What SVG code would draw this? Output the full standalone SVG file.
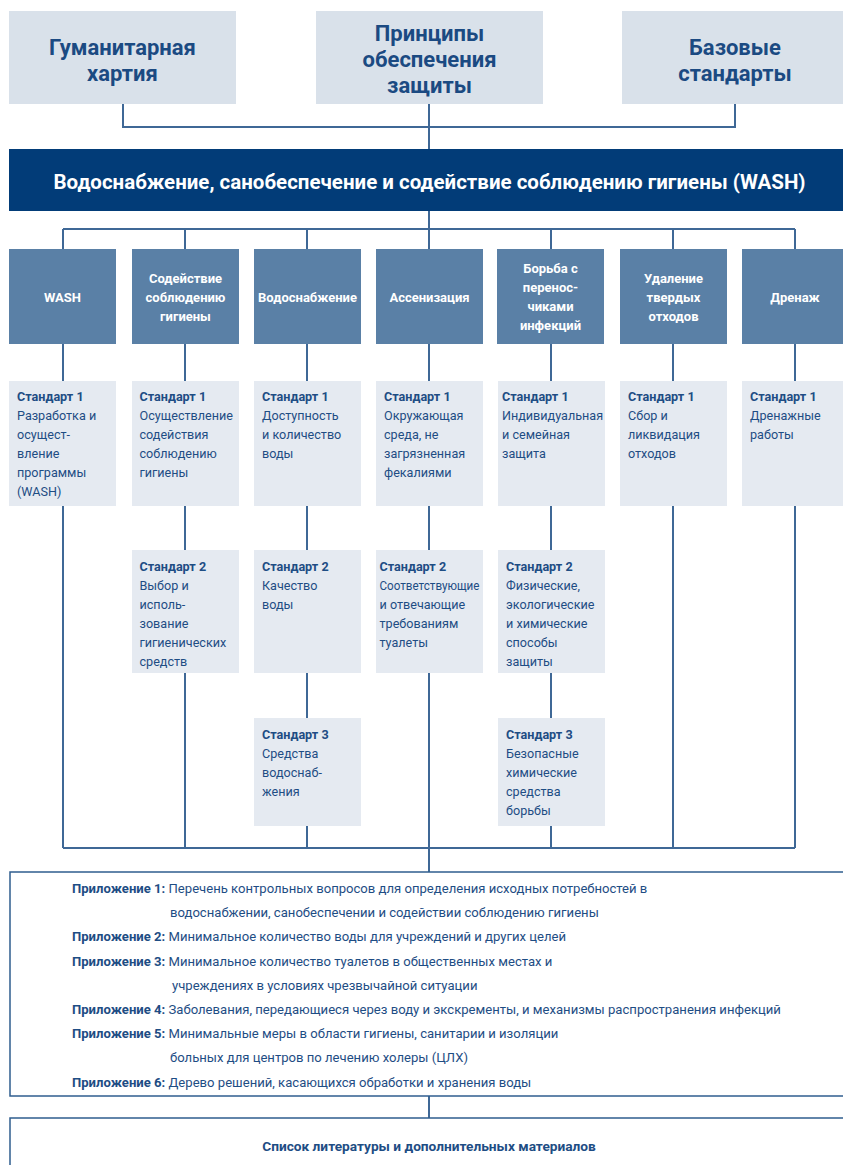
<svg xmlns="http://www.w3.org/2000/svg" width="843" height="1165" viewBox="0 0 843 1165">
<style>
.top{fill:#d9e1ea}
.toptxt{font-family:Roboto,"Noto Sans",sans-serif;font-weight:bold;font-size:22px;fill:#1b4a82;text-anchor:middle}
.band{fill:#023c78}
.bandtxt{font-family:Roboto,"Noto Sans",sans-serif;font-weight:bold;font-size:20.5px;fill:#ffffff;text-anchor:middle}
.cat{fill:#5a80a6}
.cattxt{font-family:Roboto,"Noto Sans",sans-serif;font-weight:bold;font-size:13px;fill:#ffffff;text-anchor:middle}
.std{fill:#e5eaf1}
.stdtxt{font-family:Roboto,"Noto Sans",sans-serif;font-size:12.6px;fill:#1e4d84}
.b{font-weight:bold}
.ln{stroke:#3f6896;stroke-width:2;fill:none}
.frame{fill:#ffffff;stroke:#2f5d8f;stroke-width:1.5}
.apx{font-family:Roboto,"Noto Sans",sans-serif;font-size:13.1px;fill:#1e4d84}
</style>

<g id="connectors">
<path class="ln" d="M123 104V127H735V104"/>
<path class="ln" d="M429 104V149"/>
<path class="ln" d="M429 211V229"/>
<path class="ln" d="M63 229H795"/>
<path class="ln" d="M63 229V848M185 229V848M307 229V848M429 229V872M551 229V848M673 229V848M795 229V848"/>
<path class="ln" d="M63 848H795"/>
<path class="ln" d="M429 1096V1118"/>
</g>

<g id="n-charter"><rect class="top" x="9" y="11" width="227" height="93"/>
<text class="toptxt" x="122.5" y="55">Гуманитарная</text><text class="toptxt" x="122.5" y="81">хартия</text></g>
<g id="n-principles"><rect class="top" x="316" y="11" width="227" height="93"/>
<text class="toptxt" x="429.5" y="41">Принципы</text><text class="toptxt" x="429.5" y="67">обеспечения</text><text class="toptxt" x="429.5" y="93">защиты</text></g>
<g id="n-core"><rect class="top" x="622" y="11" width="227" height="93"/>
<text class="toptxt" x="735" y="55">Базовые</text><text class="toptxt" x="735" y="81">стандарты</text></g>

<g id="n-wash-main"><rect class="band" x="9" y="149" width="840" height="62"/>
<text class="bandtxt" x="429.5" y="189">Водоснабжение, санобеспечение и содействие соблюдению гигиены (WASH)</text></g>

<g id="c-wash"><rect class="cat" x="9" y="249" width="107" height="95"/><text class="cattxt" x="62.5" y="302">WASH</text></g>
<g id="c-hygiene"><rect class="cat" x="132" y="249" width="107" height="95"/><text class="cattxt" x="185.5" y="283">Содействие</text><text class="cattxt" x="185.5" y="302">соблюдению</text><text class="cattxt" x="185.5" y="321">гигиены</text></g>
<g id="c-water"><rect class="cat" x="254" y="249" width="107" height="95"/><text class="cattxt" x="307.5" y="302">Водоснабжение</text></g>
<g id="c-excreta"><rect class="cat" x="376" y="249" width="107" height="95"/><text class="cattxt" x="429.5" y="302">Ассенизация</text></g>
<g id="c-vector"><rect class="cat" x="497" y="249" width="107" height="95"/><text class="cattxt" x="550.5" y="273">Борьба с</text><text class="cattxt" x="550.5" y="292">перенос-</text><text class="cattxt" x="550.5" y="311">чиками</text><text class="cattxt" x="550.5" y="330">инфекций</text></g>
<g id="c-solid"><rect class="cat" x="620" y="249" width="107" height="95"/><text class="cattxt" x="673.5" y="283">Удаление</text><text class="cattxt" x="673.5" y="302">твердых</text><text class="cattxt" x="673.5" y="321">отходов</text></g>
<g id="c-drain"><rect class="cat" x="742" y="249" width="107" height="95"/><text class="cattxt" x="795" y="302">Дренаж</text></g>

<g id="s-wash-1"><rect class="std" x="9" y="381" width="107" height="125"/>
<text class="stdtxt" x="17" y="401"><tspan class="b">Стандарт 1</tspan><tspan x="17" dy="19">Разработка и</tspan><tspan x="17" dy="19">осущест-</tspan><tspan x="17" dy="19">вление</tspan><tspan x="17" dy="19">программы</tspan><tspan x="17" dy="19">(WASH)</tspan></text></g>
<g id="s-hyg-1"><rect class="std" x="132" y="381" width="107" height="125"/>
<text class="stdtxt" x="139.5" y="401"><tspan class="b">Стандарт 1</tspan><tspan x="139.5" dy="19">Осуществление</tspan><tspan x="139.5" dy="19">содействия</tspan><tspan x="139.5" dy="19">соблюдению</tspan><tspan x="139.5" dy="19">гигиены</tspan></text></g>
<g id="s-hyg-2"><rect class="std" x="132" y="550" width="107" height="123"/>
<text class="stdtxt" x="139.5" y="571"><tspan class="b">Стандарт 2</tspan><tspan x="139.5" dy="19">Выбор и</tspan><tspan x="139.5" dy="19">исполь-</tspan><tspan x="139.5" dy="19">зование</tspan><tspan x="139.5" dy="19">гигиенических</tspan><tspan x="139.5" dy="19">средств</tspan></text></g>
<g id="s-water-1"><rect class="std" x="254" y="381" width="107" height="125"/>
<text class="stdtxt" x="262" y="401"><tspan class="b">Стандарт 1</tspan><tspan x="262" dy="19">Доступность</tspan><tspan x="262" dy="19">и количество</tspan><tspan x="262" dy="19">воды</tspan></text></g>
<g id="s-water-2"><rect class="std" x="254" y="550" width="107" height="123"/>
<text class="stdtxt" x="262" y="571"><tspan class="b">Стандарт 2</tspan><tspan x="262" dy="19">Качество</tspan><tspan x="262" dy="19">воды</tspan></text></g>
<g id="s-water-3"><rect class="std" x="254" y="718" width="107" height="108"/>
<text class="stdtxt" x="262" y="739"><tspan class="b">Стандарт 3</tspan><tspan x="262" dy="19">Средства</tspan><tspan x="262" dy="19">водоснаб-</tspan><tspan x="262" dy="19">жения</tspan></text></g>
<g id="s-excr-1"><rect class="std" x="376" y="381" width="107" height="125"/>
<text class="stdtxt" x="384" y="401"><tspan class="b">Стандарт 1</tspan><tspan x="384" dy="19">Окружающая</tspan><tspan x="384" dy="19">среда, не</tspan><tspan x="384" dy="19">загрязненная</tspan><tspan x="384" dy="19">фекалиями</tspan></text></g>
<g id="s-excr-2"><rect class="std" x="376" y="550" width="107" height="123"/>
<text class="stdtxt" x="379.5" y="571"><tspan class="b">Стандарт 2</tspan><tspan x="379.5" dy="19" textLength="100" lengthAdjust="spacingAndGlyphs">Соответствующие</tspan><tspan x="379.5" dy="19">и отвечающие</tspan><tspan x="379.5" dy="19">требованиям</tspan><tspan x="379.5" dy="19">туалеты</tspan></text></g>
<g id="s-vec-1"><rect class="std" x="498" y="381" width="107" height="125"/>
<text class="stdtxt" x="502" y="401"><tspan class="b">Стандарт 1</tspan><tspan x="502" dy="19">Индивидуальная</tspan><tspan x="502" dy="19">и семейная</tspan><tspan x="502" dy="19">защита</tspan></text></g>
<g id="s-vec-2"><rect class="std" x="498" y="550" width="107" height="123"/>
<text class="stdtxt" x="506" y="571"><tspan class="b">Стандарт 2</tspan><tspan x="506" dy="19">Физические,</tspan><tspan x="506" dy="19">экологические</tspan><tspan x="506" dy="19">и химические</tspan><tspan x="506" dy="19">способы</tspan><tspan x="506" dy="19">защиты</tspan></text></g>
<g id="s-vec-3"><rect class="std" x="498" y="718" width="107" height="108"/>
<text class="stdtxt" x="506" y="739"><tspan class="b">Стандарт 3</tspan><tspan x="506" dy="19">Безопасные</tspan><tspan x="506" dy="19">химические</tspan><tspan x="506" dy="19">средства</tspan><tspan x="506" dy="19">борьбы</tspan></text></g>
<g id="s-solid-1"><rect class="std" x="620" y="381" width="107" height="125"/>
<text class="stdtxt" x="628" y="401"><tspan class="b">Стандарт 1</tspan><tspan x="628" dy="19">Сбор и</tspan><tspan x="628" dy="19">ликвидация</tspan><tspan x="628" dy="19">отходов</tspan></text></g>
<g id="s-drain-1"><rect class="std" x="742" y="381" width="107" height="125"/>
<text class="stdtxt" x="750" y="401"><tspan class="b">Стандарт 1</tspan><tspan x="750" dy="19">Дренажные</tspan><tspan x="750" dy="19">работы</tspan></text></g>

<g id="n-annexes"><rect class="frame" x="10" y="872" width="845" height="224"/>
<text class="apx" x="72" y="893"><tspan class="b">Приложение 1:</tspan> Перечень контрольных вопросов для определения исходных потребностей в</text>
<text class="apx" x="170" y="917">водоснабжении, санобеспечении и содействии соблюдению гигиены</text>
<text class="apx" x="72" y="941"><tspan class="b">Приложение 2:</tspan> Минимальное количество воды для учреждений и других целей</text>
<text class="apx" x="72" y="966"><tspan class="b">Приложение 3:</tspan> Минимальное количество туалетов в общественных местах и</text>
<text class="apx" x="172" y="990">учреждениях в условиях чрезвычайной ситуации</text>
<text class="apx" x="72" y="1014"><tspan class="b">Приложение 4:</tspan> Заболевания, передающиеся через воду и экскременты, и механизмы распространения инфекций</text>
<text class="apx" x="72" y="1038"><tspan class="b">Приложение 5:</tspan> Минимальные меры в области гигиены, санитарии и изоляции</text>
<text class="apx" x="170" y="1062">больных для центров по лечению холеры (ЦЛХ)</text>
<text class="apx" x="72" y="1087"><tspan class="b">Приложение 6:</tspan> Дерево решений, касающихся обработки и хранения воды</text>
</g>

<g id="n-references"><rect class="frame" x="10" y="1118" width="845" height="60"/>
<text class="apx b" x="429" y="1151" text-anchor="middle" style="font-size:13.7px">Список литературы и дополнительных материалов</text></g>
</svg>
